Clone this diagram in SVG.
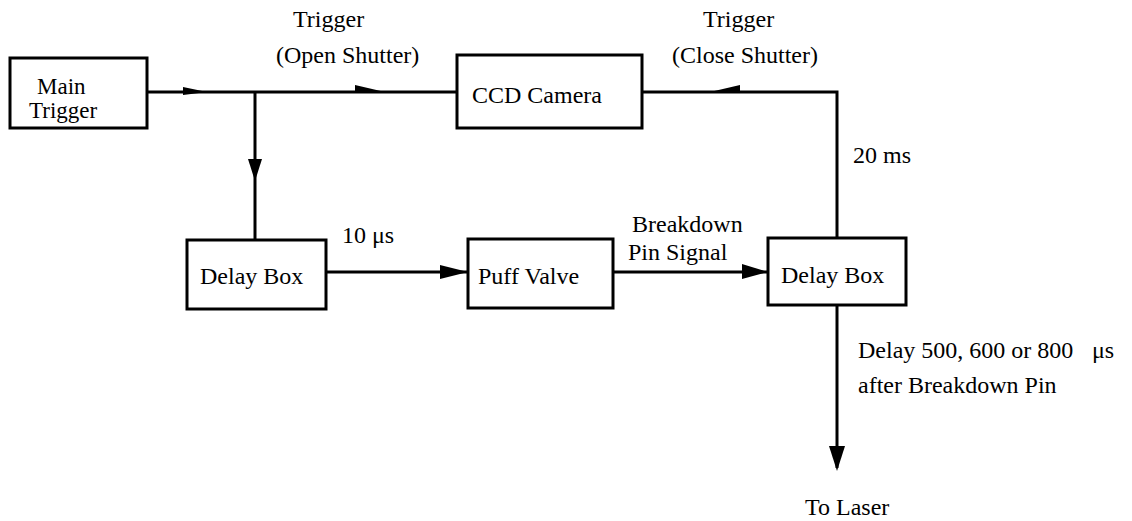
<svg xmlns="http://www.w3.org/2000/svg" width="1132" height="521" viewBox="0 0 1132 521">
<style>
.box{fill:#fff;stroke:#000;stroke-width:3}
.ln{fill:none;stroke:#000;stroke-width:3}
.ah{fill:#000;stroke:none}
.t{font-family:'Liberation Serif','DejaVu Serif','Times New Roman',serif;font-size:24px;fill:#000}
</style>
<rect width="1132" height="521" fill="#fff"/>
<g id="connectors">
<path class="ln" d="M147,92 H457"/>
<path class="ln" d="M255,92 V240"/>
<path class="ln" d="M642,92 H837 V238"/>
<path class="ln" d="M326,272 H468"/>
<path class="ln" d="M613,272 H768"/>
<path class="ln" d="M837,305 V468"/>
<polygon class="ah" points="183,87 207,92 183,95"/>
<polygon class="ah" points="355,85 385,92 355,93"/>
<polygon class="ah" points="740,85 710,92 740,93"/>
<polygon class="ah" points="248,159 262,159 255,181"/>
<polygon class="ah" points="440,265 468,272 440,279"/>
<polygon class="ah" points="742,264 768,272 742,279"/>
<polygon class="ah" points="829,446 845,446 837,471"/>
</g>
<g class="t" font-family="Liberation Serif, DejaVu Serif, serif">
<g id="main-trigger">
<rect class="box" x="10" y="58" width="137" height="70"/>
<text x="37" y="94" font-size="23">Main</text>
<text x="29" y="118" font-size="23">Trigger</text>
</g>
<g id="ccd-camera">
<rect class="box" x="457" y="55" width="185" height="73"/>
<text x="472" y="103">CCD Camera</text>
</g>
<g id="delay-box-1">
<rect class="box" x="187" y="240" width="139" height="69"/>
<text x="200" y="284">Delay Box</text>
</g>
<g id="puff-valve">
<rect class="box" x="468" y="239" width="145" height="69"/>
<text x="478" y="284">Puff Valve</text>
</g>
<g id="delay-box-2">
<rect class="box" x="768" y="238" width="138" height="67"/>
<text x="781" y="283">Delay Box</text>
</g>
<g id="labels">
<text x="293" y="27">Trigger</text>
<text x="276" y="63">(Open Shutter)</text>
<text x="703" y="27">Trigger</text>
<text x="672" y="63">(Close Shutter)</text>
<text x="853" y="163">20 ms</text>
<text x="342" y="243">10 μs</text>
<text x="632" y="232">Breakdown</text>
<text x="628" y="260">Pin Signal</text>
<text x="858" y="358">Delay 500, 600 or 800<tspan x="1092">μs</tspan></text>
<text x="858" y="393">after Breakdown Pin</text>
<text x="805" y="515">To Laser</text>
</g>
</g>
</svg>
